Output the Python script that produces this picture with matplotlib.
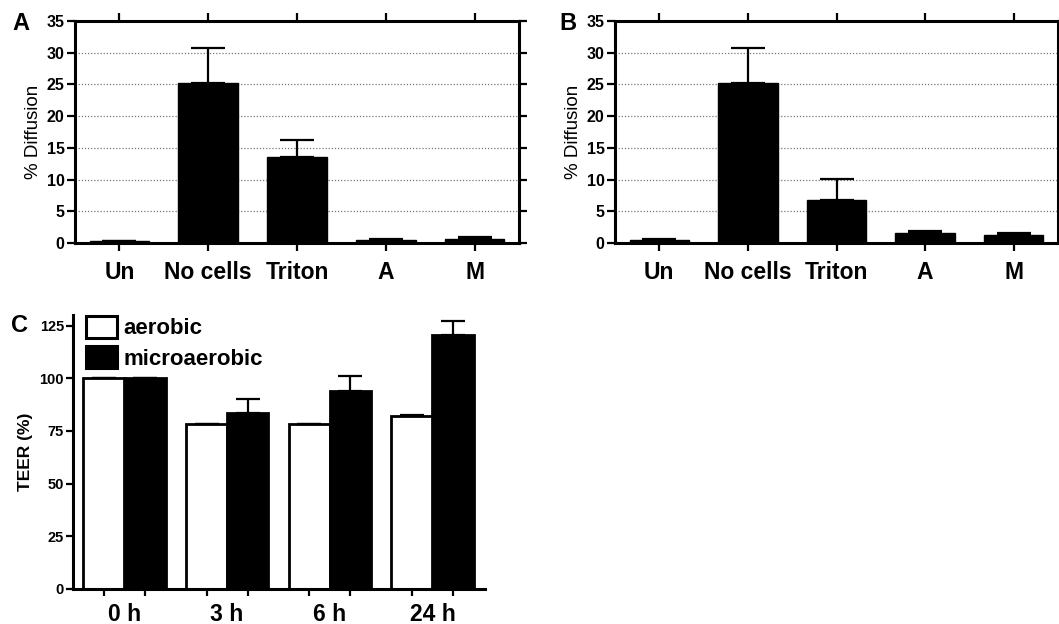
import matplotlib
matplotlib.use('Agg')
import matplotlib.pyplot as plt
import numpy as np

plt.rcParams['font.family'] = ['Liberation Sans', 'DejaVu Sans']

# ---------------- data ----------------
categories = ['Un', 'No cells', 'Triton', 'A', 'M']
diff_a = [0.35, 25.2, 13.6, 0.45, 0.7]
diff_a_err = [0.0, 5.6, 2.7, 0.15, 0.2]
diff_b = [0.4, 25.2, 6.8, 1.5, 1.25]
diff_b_err = [0.2, 5.6, 3.3, 0.35, 0.25]
yticks_ab = [0, 5, 10, 15, 20, 25, 30, 35]

timepoints = ['0 h', '3 h', '6 h', '24 h']
teer_aerobic = [100, 78.5, 78.5, 82]
teer_aerobic_err = [0, 0, 0, 0.6]
teer_micro = [100, 83.5, 94, 120.5]
teer_micro_err = [0, 6.5, 7, 6.5]
yticks_c = [0, 25, 50, 75, 100, 125]
series_names = ['aerobic', 'microaerobic']

W, H = 1059, 624
fig = plt.figure(figsize=(W / 100, H / 100), dpi=100)

def px_axes(x0, x1, y0, y1):
    return fig.add_axes([x0 / W, 1 - y1 / H, (x1 - x0) / W, (y1 - y0) / H])

SPINE_LW = 2.2
TICK_W = 1.6

def diffusion_panel(ax, vals, errs, letter, letter_xy):
    x = np.arange(len(categories))
    ax.set_axisbelow(True)
    ax.yaxis.grid(True, linestyle=(0, (1, 1.5)), color='#777777', linewidth=0.9)
    ax.bar(x, vals, width=0.67, color='black', edgecolor='black', linewidth=1, zorder=2)
    ax.errorbar(x, vals, yerr=[np.zeros(len(vals)), errs], fmt='none', ecolor='black',
                elinewidth=1.6, capsize=12.5, capthick=1.6, zorder=3)
    ax.set_xlim(-0.5, len(categories) - 0.5)
    ax.set_ylim(0, 35)
    ax.set_yticks(yticks_ab)
    ax.set_yticklabels([str(v) for v in yticks_ab], fontsize=11.5, fontweight='bold')
    ax.set_xticks(x)
    ax.set_xticklabels(categories, fontsize=16.5, fontweight='bold')
    for s in ax.spines.values():
        s.set_linewidth(SPINE_LW)
    ax.tick_params(axis='y', which='major', direction='out', length=6, width=TICK_W,
                   left=True, right=True, labelright=False, pad=1.5)
    ax.tick_params(axis='x', which='major', direction='out', length=6, width=TICK_W,
                   bottom=True, top=True, labeltop=False, pad=7)
    ax.set_ylabel('% Diffusion', fontsize=13.5, labelpad=3)
    fig.text(letter_xy[0] / W, 1 - letter_xy[1] / H, letter, fontsize=17, fontweight='bold',
             ha='center', va='center')

axA = px_axes(75, 519, 21, 243)
diffusion_panel(axA, diff_a, diff_a_err, 'A', (21, 24))
axB = px_axes(615, 1058, 21, 243)
diffusion_panel(axB, diff_b, diff_b_err, 'B', (568, 24))

# ---------------- panel C ----------------
axC = px_axes(73, 485, 315, 589)
g = np.arange(len(timepoints))
bw = 0.405
off = 0.2
axC.bar(g - off, teer_aerobic, width=bw, color='white', edgecolor='black', linewidth=2,
        label=series_names[0], zorder=2)
axC.bar(g + off, teer_micro, width=bw, color='black', edgecolor='black', linewidth=2,
        label=series_names[1], zorder=2)
axC.errorbar(g - off, teer_aerobic, yerr=[np.zeros(4), teer_aerobic_err], fmt='none',
             ecolor='black', elinewidth=1.6, capsize=8.3, capthick=1.6, zorder=3)
axC.errorbar(g + off, teer_micro, yerr=[np.zeros(4), teer_micro_err], fmt='none',
             ecolor='black', elinewidth=1.6, capsize=8.3, capthick=1.6, zorder=3)
axC.set_xlim(-0.5, 3.51)
axC.set_ylim(0, 130)
axC.spines['top'].set_visible(False)
axC.spines['right'].set_visible(False)
for s in ['left', 'bottom']:
    axC.spines[s].set_linewidth(SPINE_LW)
axC.set_yticks(yticks_c)
axC.set_yticklabels([str(v) for v in yticks_c], fontsize=10.5, fontweight='bold')
axC.tick_params(axis='y', direction='out', length=5, width=TICK_W, pad=1.5)
bar_pos = np.sort(np.concatenate([g - off, g + off]))
axC.set_xticks(bar_pos)
axC.set_xticklabels([''] * len(bar_pos))
axC.tick_params(axis='x', which='major', direction='out', length=5, width=TICK_W)
axC.set_xticks(g, minor=True)
axC.set_xticklabels(timepoints, minor=True, fontsize=16.5, fontweight='bold')
axC.tick_params(axis='x', which='minor', length=0, pad=10)
axC.set_ylabel('TEER (%)', fontsize=12.5, fontweight='bold', labelpad=5)
leg = axC.legend(loc='upper left', bbox_to_anchor=(0.025, 1.005), frameon=False,
                 prop={'size': 16, 'weight': 'bold'}, handlelength=1.4, handleheight=1.15,
                 handletextpad=0.3, labelspacing=0.3, borderaxespad=0.0, borderpad=0.1)
for p in leg.get_patches():
    p.set_linewidth(2.2)
fig.text(19.5 / W, 1 - 325 / H, 'C', fontsize=17, fontweight='bold', ha='center', va='center')

fig.savefig('out.png', dpi=100)
